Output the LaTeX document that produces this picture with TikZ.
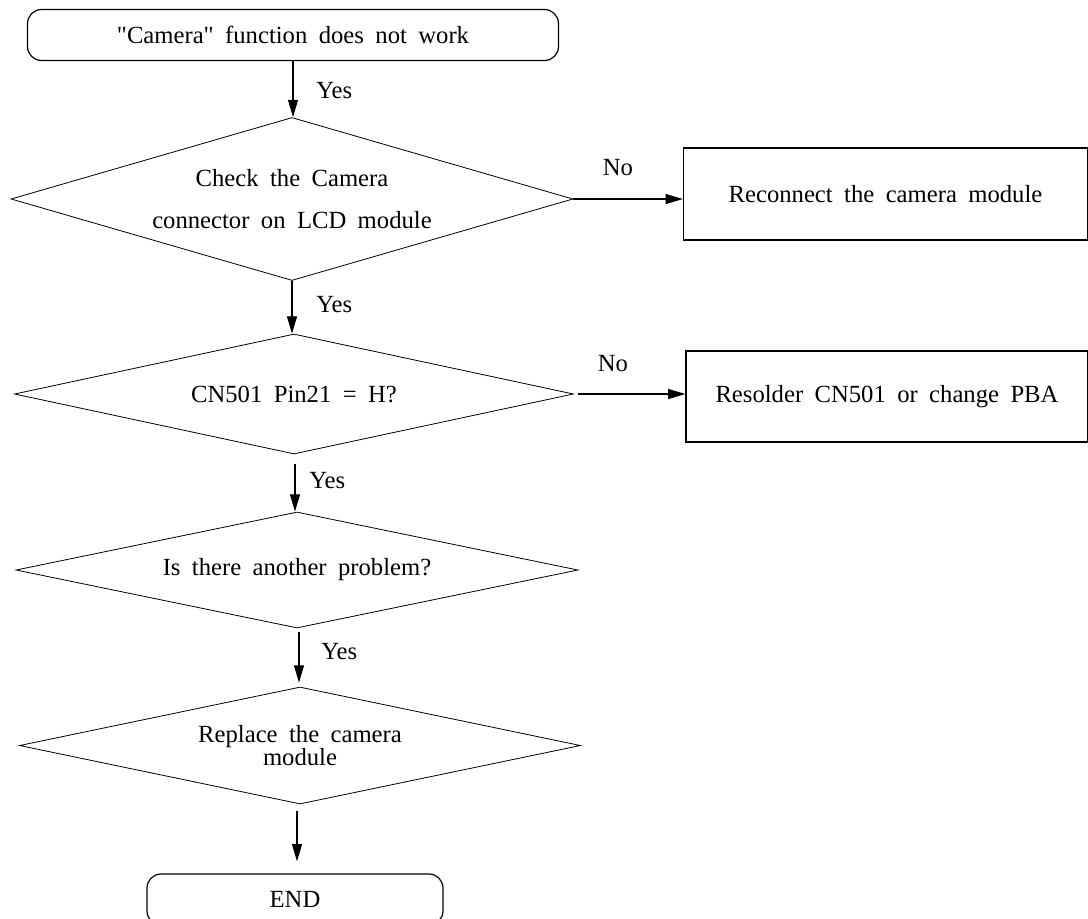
\documentclass[tikz,border=0pt]{standalone}
\usepackage{fontspec}
\setmainfont[WordSpace=1.85,Ligatures=TeXOff]{Liberation Serif}
\usetikzlibrary{shapes.geometric,arrows.meta}
\begin{document}
\begin{tikzpicture}[x=0.75pt,y=-0.75pt,
  every node/.style={font=\fontsize{18.5}{22}\selectfont},
  term/.style={draw, line width=0.9pt, rounded corners=10.5pt, inner sep=0pt, minimum height=51*0.75pt},
  dec/.style={draw, diamond, line width=0.6pt, inner sep=0pt, align=center},
  act/.style={draw, rectangle, line width=0.9pt, inner sep=0pt},
  flow/.style={-{Triangle[length=13pt,width=7.5pt]}, line width=0.9pt},
  lbl/.style={inner sep=0pt}]
\useasboundingbox (0,0) rectangle (1088,918);

\node[term, minimum width=531*0.75pt] (start) at (293,35) {"Camera" function does not work};
\node[dec, minimum width=562*0.75pt, minimum height=163*0.75pt, shape aspect=3.45] (d1) at (292,199) {Check the Camera\\[9.5pt]connector on LCD module};
\node[act, minimum width=404*0.75pt, minimum height=92*0.75pt] (r1) at (885.5,194) {Reconnect the camera module};
\node[dec, minimum width=559*0.75pt, minimum height=120*0.75pt, shape aspect=4.66] (d2) at (294,394) {CN501 Pin21 = H?};
\node[act, minimum width=402*0.75pt, minimum height=91*0.75pt] (r2) at (887,396.5) {Resolder CN501 or change PBA};
\node[dec, minimum width=562*0.75pt, minimum height=116*0.75pt, shape aspect=4.84] (d3) at (297,570) {Is there another problem?};
\node[dec, minimum width=561*0.75pt, minimum height=117*0.75pt, shape aspect=4.8, font=\fontsize{18.5}{15}\selectfont] (d4) at (300,745.5) {Replace the camera\\module};
\node[term, minimum width=296*0.75pt] (end) at (295,899.5) {END};

\draw[flow] (start.south) -- (start.south |- d1.north);
\draw[flow] (d1.south) -- (d1.south |- d2.north);
\draw[flow, shorten <=7.5pt] (d2.south -| 295,0) -- (d3.north -| 295,0);
\draw[flow, shorten <=3pt, shorten >=3pt] (d3.south -| 299,0) -- (d4.north -| 299,0);
\draw[flow, shorten <=5.25pt, shorten >=9pt] (d4.south -| 297,0) -- (end.north -| 297,0);
\draw[flow] (d1.east) -- (d1.east -| r1.west);
\draw[flow, shorten <=3pt] (d2.east) -- (d2.east -| r2.west);

\node[lbl, anchor=west] (y1) at (316,91) {Yes};
\node[lbl, anchor=west] (y2) at (316,305) {Yes};
\node[lbl, anchor=west] (y3) at (309,481) {Yes};
\node[lbl, anchor=west] (y4) at (321,652) {Yes};
\node[lbl] (n1) at (618,168) {No};
\node[lbl] (n2) at (613,364) {No};
\end{tikzpicture}
\end{document}
